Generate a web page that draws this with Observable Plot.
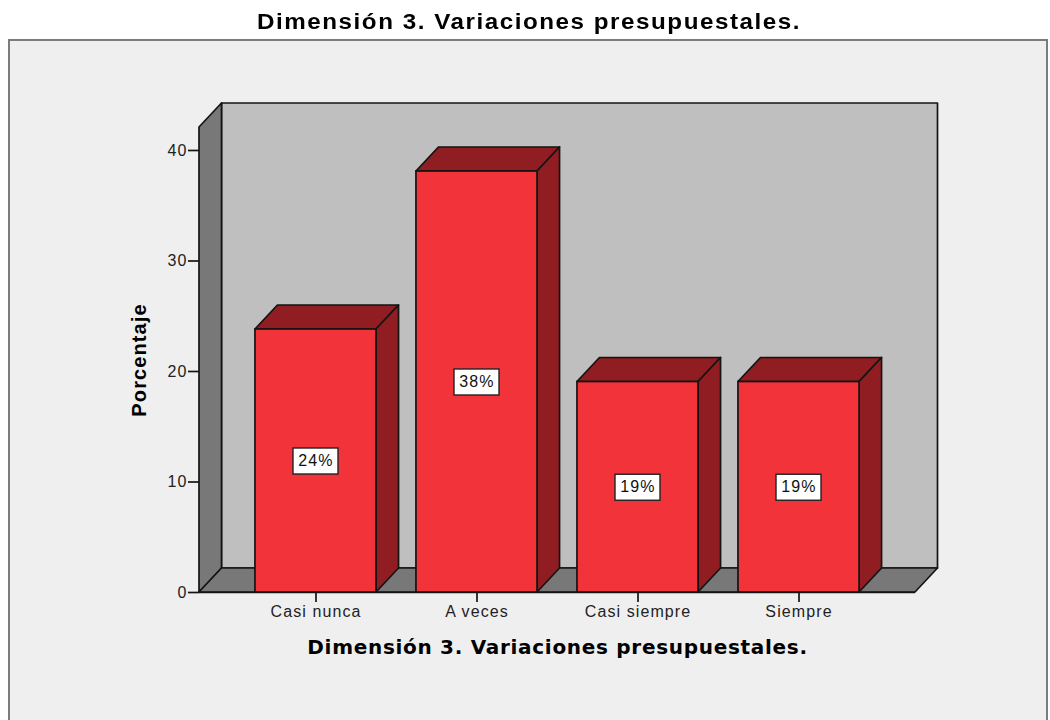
<!DOCTYPE html>
<html>
<head>
<meta charset="utf-8">
<script src="https://cdn.jsdelivr.net/npm/d3@7"></script>
<script src="https://cdn.jsdelivr.net/npm/@observablehq/plot@0.6"></script>
<style>
  html, body { margin: 0; padding: 0; background: #fff; width: 1050px; height: 720px; overflow: hidden; }
  #page { width: 1050px; height: 720px; overflow: hidden; filter: blur(0.35px); }
  #title { height: 39px; width: 1058px; text-align: center; font: bold 22px "Liberation Sans", sans-serif; letter-spacing: 1.39px; line-height: 44px; color: #000; transform: scaleX(1.1); transform-origin: 529px 0; white-space: nowrap; }
  #panel { margin-left: 8px; width: 1040px; height: 690px; box-sizing: border-box; border: 2px solid #7c7c7c; border-bottom: none; background: #efefef; overflow: hidden; }
  #panel svg { display: block; }
  .x-title text { letter-spacing: 0.7px; }
</style>
</head>
<body>
<div id="page">
<div id="title">Dimensión 3. Variaciones presupuestales.</div>
<div id="panel"></div>
</div>
<script>
const categories = ["Casi nunca", "A veces", "Casi siempre", "Siempre"];
const percentages = [23.8, 38.1, 19.05, 19.05];
const barLabels = ["24%", "38%", "19%", "19%"];
const yTicks = [0, 10, 20, 30, 40];
const yTitle = "Porcentaje";
const xTitle = "Dimensión 3. Variaciones presupuestales.";

const rows = categories.map((c, i) => ({category: c, value: percentages[i], label: barLabels[i]}));

const depthX = 22.5, depthY = 24;
const ink = "#141414";
const svgNS = "http://www.w3.org/2000/svg";
const bandOf = s => typeof s.bandwidth === "function" ? s.bandwidth() : s.bandwidth;

function poly(parent, pts, fill) {
  const p = document.createElementNS(svgNS, "polygon");
  p.setAttribute("points", pts.map(d => d.join(",")).join(" "));
  p.setAttribute("fill", fill);
  p.setAttribute("stroke", ink);
  p.setAttribute("stroke-width", 1.7);
  p.setAttribute("stroke-linejoin", "round");
  parent.appendChild(p);
}

// Back wall, side wall and floor, positioned from the plot's frame
function walls(index, scales, channels, dim) {
  const g = document.createElementNS(svgNS, "g");
  const l = dim.marginLeft, r = dim.width - dim.marginRight;
  const t = dim.marginTop, b = dim.height - dim.marginBottom;
  poly(g, [[l + depthX, t - depthY], [r + depthX, t - depthY], [r + depthX, b - depthY], [l + depthX, b - depthY]], "#bfbfbf");
  poly(g, [[l, b], [l, t], [l + depthX, t - depthY], [l + depthX, b - depthY]], "#787878");
  poly(g, [[l, b], [l + depthX, b - depthY], [r + depthX, b - depthY], [r, b]], "#787878");
  return g;
}

// Top and side faces of each bar, from the x and y scales
function barDepth(index, scales) {
  const g = document.createElementNS(svgNS, "g");
  const bw = bandOf(scales.x);
  for (const i of index) {
    const x0 = scales.x(rows[i].category), x1 = x0 + bw;
    const y0 = scales.y(0), y1 = scales.y(rows[i].value);
    poly(g, [[x0, y1], [x0 + depthX, y1 - depthY], [x1 + depthX, y1 - depthY], [x1, y1]], "#8f1d22");
    poly(g, [[x1, y1], [x1 + depthX, y1 - depthY], [x1 + depthX, y0 - depthY], [x1, y0]], "#8f1d22");
  }
  return g;
}

// White boxes behind the value labels
function boxedText(index, scales, channels, dim, ctx, next) {
  const g = document.createElementNS(svgNS, "g");
  const bw = bandOf(scales.x);
  for (const i of index) {
    const r = document.createElementNS(svgNS, "rect");
    r.setAttribute("x", scales.x(rows[i].category) + bw / 2 - 22.5);
    r.setAttribute("y", scales.y(rows[i].value / 2) - 12.5);
    r.setAttribute("width", 45);
    r.setAttribute("height", 26);
    r.setAttribute("fill", "#fff");
    r.setAttribute("stroke", "#222");
    r.setAttribute("stroke-width", 1.4);
    g.appendChild(r);
  }
  g.appendChild(next(index, scales, channels, dim, ctx));
  return g;
}

const chart = Plot.plot({
  width: 1036,
  height: 679,
  marginLeft: 189,
  marginRight: 131,
  marginTop: 86,
  marginBottom: 128,
  style: {background: "transparent", fontFamily: "'Liberation Sans', sans-serif", fontSize: "16px", color: "#222", letterSpacing: "1.1px", overflow: "visible"},
  x: {type: "band", domain: categories, paddingInner: 0.248, paddingOuter: 0.3475, align: 0.5, round: false, label: null},
  y: {domain: [0, 42.08], label: null},
  marks: [
    Plot.barY([0], {x: () => categories[0], y: 0, fill: "none", render: walls}),
    Plot.axisY({ticks: yTicks, tickSize: 11, tickPadding: 1, strokeWidth: 1.7, stroke: ink, label: null, tickFormat: d => String(d)}),
    Plot.axisX({tickSize: 10, tickPadding: 3, strokeWidth: 1.7, stroke: ink, label: null}),
    Plot.ruleY([0], {stroke: ink, strokeWidth: 1.7}),
    Plot.barY(rows, {x: "category", y: "value", fill: "none", render: barDepth}),
    Plot.barY(rows, {x: "category", y: "value", fill: "#f2333a", stroke: ink, strokeWidth: 1.7}),
    Plot.text(rows, {x: "category", y: d => d.value / 2, text: "label", fill: "#111", fontSize: 16, render: boxedText}),
    Plot.text([xTitle], {frameAnchor: "bottom", dy: 61, fontWeight: "bold", fontSize: 20, fontFamily: "'DejaVu Sans', sans-serif", fill: "#000", className: "x-title"}),
    Plot.text([yTitle], {frameAnchor: "left", textAnchor: "middle", dx: -60, rotate: -90, fontWeight: "bold", fontSize: 20, fontFamily: "'Liberation Sans', sans-serif", fill: "#000"})
  ]
});
document.getElementById("panel").appendChild(chart);
</script>
</body>
</html>
